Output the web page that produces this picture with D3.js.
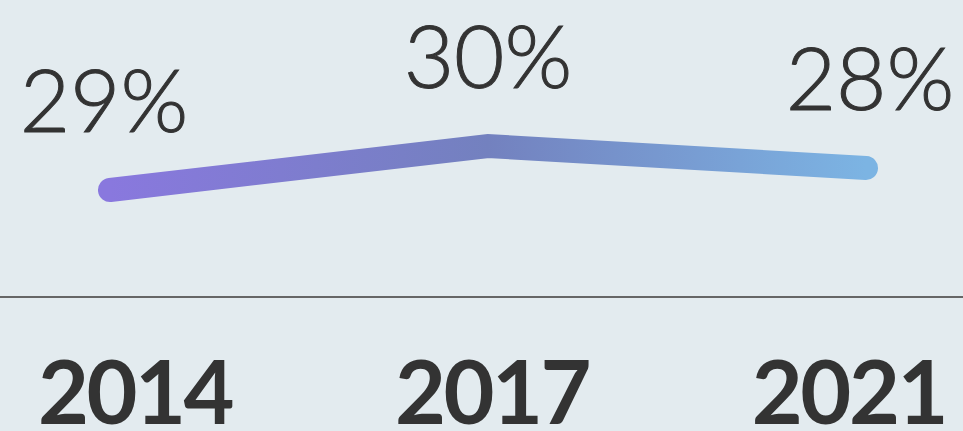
<!DOCTYPE html>
<html lang="en">
<head>
    <meta charset="UTF-8">
    <script src="https://d3js.org/d3.v7.min.js"></script>
    <style>
        html, body {margin: 0; padding: 0; background-color: #e3ebef; overflow: hidden}
        svg {display: block}
    </style>
</head>
<body>
<svg class="chart"></svg>
<script type="text/javascript">
    // values
    let years = ['2014', '2017', '2021'];
    let shares = [29, 30, 28];              // label values, in %
    let linePos = [29.0, 30.0, 29.5];       // heights the line is drawn at (not to scale with the labels)

    let width = 963;
    let height = 431;

    var svg = d3.select('.chart')
        .attr('width', width)
        .attr('height', height);

    var x = d3.scalePoint()
        .domain(years)
        .range([110, 866]);

    var y = d3.scaleLinear()
        .domain([29, 30])
        .range([190, 146]);

    var grad = svg.append('defs').append('linearGradient')
        .attr('id', 'lineGrad')
        .attr('gradientUnits', 'userSpaceOnUse')
        .attr('x1', x(years[0])).attr('x2', x(years[years.length - 1]))
        .attr('y1', 0).attr('y2', 0);
    grad.append('stop').attr('offset', '0%').attr('stop-color', '#8978de');
    grad.append('stop').attr('offset', '50%').attr('stop-color', '#7381bf');
    grad.append('stop').attr('offset', '100%').attr('stop-color', '#7cb4e3');

    var line = d3.line()
        .x(function (d, i) { return x(years[i]); })
        .y(function (d) { return y(d); });

    svg.append('path')
        .datum(linePos)
        .attr('d', line)
        .attr('fill', 'none')
        .attr('stroke', 'url(#lineGrad)')
        .attr('stroke-width', 24)
        .attr('stroke-linecap', 'round')
        .attr('stroke-linejoin', 'miter');

    // value labels
    svg.selectAll('.val')
        .data(shares)
        .enter()
        .append('text')
        .attr('class', 'val')
        .attr('x', function (d, i) { return x(years[i]) - (i === 0 ? 6 : 0) + (i === 2 ? 4 : 0); })
        .attr('y', function (d, i) { return y(linePos[i]) - 58; })
        .attr('text-anchor', 'middle')
        .attr('fill', '#333333')
        .attr('stroke', '#333333')
        .attr('stroke-width', 1)
        .style('font-family', 'Lato, sans-serif')
        .style('font-weight', 300)
        .style('font-size', '87px')
        .text(function (d) { return d + '%'; });

    // baseline
    svg.append('line')
        .attr('x1', 0).attr('x2', width)
        .attr('y1', 297).attr('y2', 297)
        .attr('stroke', '#666666')
        .attr('stroke-width', 2);

    // year labels
    var xl = d3.scalePoint()
        .domain(years)
        .range([38, 946]);
    var anchors = ['start', 'middle', 'end'];

    svg.selectAll('.year')
        .data(years)
        .enter()
        .append('text')
        .attr('class', 'year')
        .attr('x', function (d) { return xl(d); })
        .attr('y', 424)
        .attr('text-anchor', function (d, i) { return anchors[i]; })
        .attr('fill', '#333333')
        .style('font-family', 'Lato, sans-serif')
        .style('font-weight', 700)
        .style('font-size', '88px')
        .style('letter-spacing', '-2.5px')
        .text(function (d) { return d; });
</script>
</body>
</html>
